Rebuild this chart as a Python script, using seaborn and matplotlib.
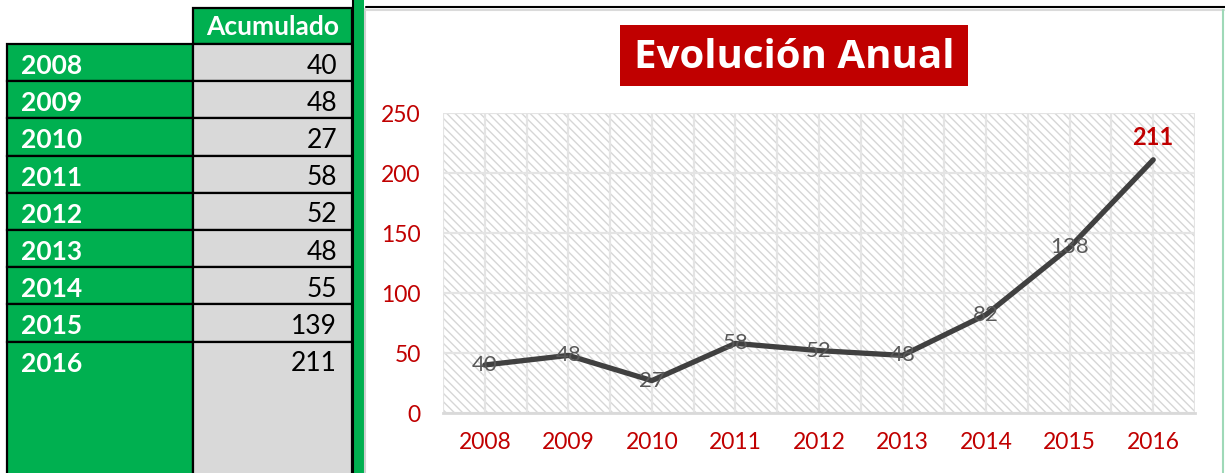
import matplotlib
matplotlib.use("Agg")
import matplotlib.pyplot as plt
from matplotlib.patches import Rectangle
import seaborn as sns
import pandas as pd

# table on the left (Acumulado) and series plotted in the chart
years = ["2008", "2009", "2010", "2011", "2012", "2013", "2014", "2015", "2016"]
acumulado = [40, 48, 27, 58, 52, 48, 55, 139, 211]
chart_values = [40, 48, 27, 58, 52, 48, 82, 138, 211]
y_ticks = [0, 50, 100, 150, 200, 250]

GREEN = "#00B050"
GRAY = "#D9D9D9"
RED = "#C00000"
LINE = "#404040"

sns.set_theme(style="white")
plt.rcParams["font.family"] = ["Lato", "DejaVu Sans"]

W, H = 1225, 473
fig = plt.figure(figsize=(W / 100, H / 100), dpi=100)

# ---- spreadsheet part, drawn in pixel coordinates
bg = fig.add_axes([0, 0, 1, 1])
bg.set_xlim(0, W)
bg.set_ylim(H, 0)
bg.axis("off")

x0, x1, x2 = 7, 193, 352
head_top, row_top, row_h = 8, 44, 37.2

bg.add_patch(Rectangle((x1, head_top), x2 - x1, row_top - head_top, fc=GREEN, ec="black", lw=1.6))
bg.text(x1 + (x2 - x1) / 2, row_top - 17, "Acumulado", color="white", fontsize=19,
        fontweight="bold", ha="center", va="center")
for i, (yr, val) in enumerate(zip(years, acumulado)):
    top = row_top + i * row_h
    h = row_h if i < len(years) - 1 else H - top + 2
    bg.add_patch(Rectangle((x0, top), x1 - x0, h, fc=GREEN, ec="black", lw=1.6))
    bg.add_patch(Rectangle((x1, top), x2 - x1, h, fc=GRAY, ec="black", lw=1.6))
    bg.text(x0 + 14, top + 22, yr, color="white", fontsize=19, fontweight="bold", va="center")
    bg.text(x2 - 15, top + 22, str(val), color="black", fontsize=19, ha="right", va="center")

# green strip between table and chart
bg.add_patch(Rectangle((353, 0), 11, H, fc=GREEN, ec="none"))
bg.plot([352.5, 352.5], [0, H], color="black", lw=1.5)
bg.plot([365, 365], [9, H], color="#D0D0D0", lw=1.5)
bg.plot([366, W], [7.5, 7.5], color="black", lw=1.5)
bg.plot([366, W], [10, 10], color="#DADADA", lw=1.5)
bg.plot([1223, 1223], [10, H], color="#9FD9B8", lw=1.5)

# title box
bg.add_patch(Rectangle((620, 25), 348, 61, fc=RED, ec="none"))
bg.text(794, 57, "Evolución Anual", color="white", fontsize=29, fontweight="bold",
        ha="center", va="center", family=["Open Sans", "DejaVu Sans"])

# ---- line chart
left, right, top_px, bot_px = 443, 1195, 113, 413
ax = fig.add_axes([left / W, 1 - bot_px / H, (right - left) / W, (bot_px - top_px) / H])

df = pd.DataFrame({"year": years, "value": chart_values})
ax.set_facecolor("white")
plt.rcParams["hatch.linewidth"] = 1.0
ax.add_patch(Rectangle((0, 0), 1, 1, transform=ax.transAxes, fc="white",
                       ec="#D6D6D6", hatch="\\\\\\\\", lw=0, zorder=0))

sns.lineplot(data=df, x="year", y="value", ax=ax, color=LINE, lw=3.8, sort=False, zorder=3)

ax.set_xlim(-0.5, len(years) - 0.5)
ax.set_ylim(0, 250)
ax.set_yticks(y_ticks)
ax.set_xticks(range(len(years)))
ax.set_xticks([i - 0.5 for i in range(len(years) + 1)], minor=True)
ax.grid(True, which="both", color="#E4E4E4", lw=1.6, zorder=1)
ax.set_axisbelow(True)
for s in ["top", "right", "left"]:
    ax.spines[s].set_visible(False)
ax.spines["bottom"].set_color("#D9D9D9")
ax.spines["bottom"].set_linewidth(2)
ax.tick_params(axis="both", which="both", length=0, colors=RED, labelsize=16.5)
ax.tick_params(axis="x", pad=14)
ax.tick_params(axis="y", pad=16)
ax.set_xlabel("")
ax.set_ylabel("")

for i, v in enumerate(chart_values):
    if i == len(chart_values) - 1:
        ax.annotate(str(v), (i, v), xytext=(0, 16), textcoords="offset points", ha="center",
                    va="center", color=RED, fontsize=17, fontweight="bold", zorder=5)
    else:
        ax.annotate(str(v), (i, v), ha="center", va="center", color="#595959",
                    fontsize=16, zorder=5)

fig.savefig("out.png", dpi=100)
